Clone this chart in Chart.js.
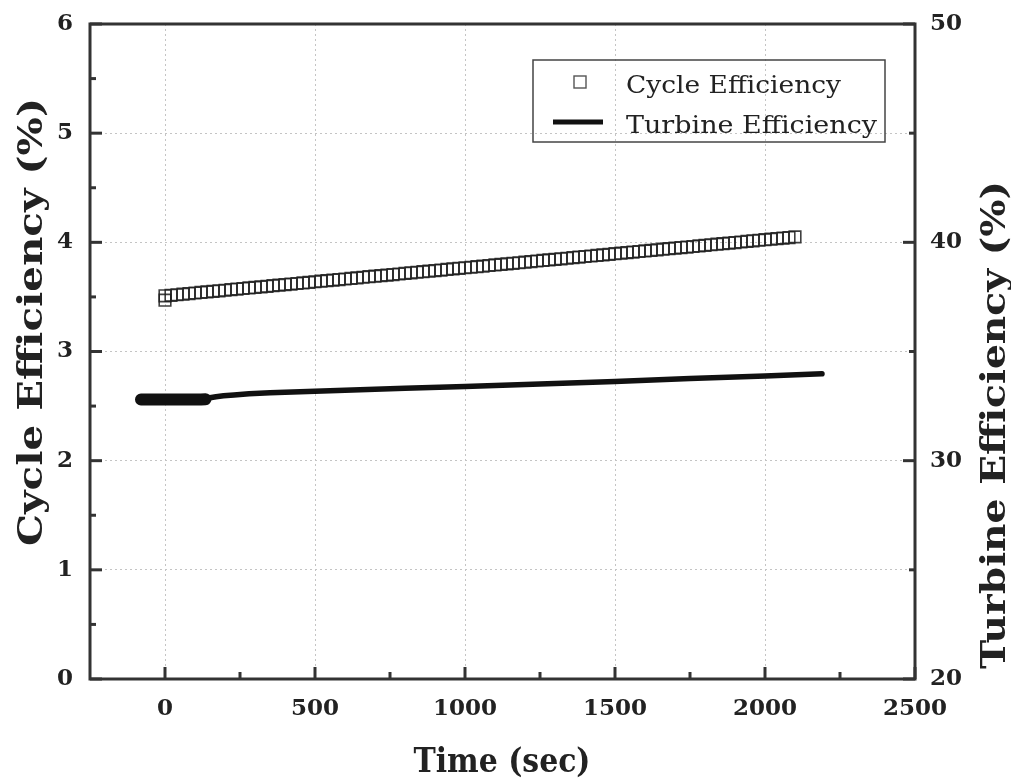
<!DOCTYPE html>
<html>
<head>
<meta charset="utf-8">
<script src="https://cdn.jsdelivr.net/npm/chart.js@4.4.1/dist/chart.umd.min.js"></script>
<style>
  html, body { margin: 0; padding: 0; background: #fff; }
  #wrap { width: 1011px; height: 780px; }
</style>
</head>
<body>
<div id="wrap"><canvas id="chart" width="1011" height="780"></canvas></div>
<script>
// Cycle efficiency (%) — left axis, square markers
const cycleTime = [0, 0, 20, 40, 60, 80, 100, 120, 140, 160, 180, 200, 220, 240, 260, 280, 300, 320, 340, 360,
  380, 400, 420, 440, 460, 480, 500, 520, 540, 560, 580, 600, 620, 640, 660, 680, 700, 720, 740, 760,
  780, 800, 820, 840, 860, 880, 900, 920, 940, 960, 980, 1000, 1020, 1040, 1060, 1080, 1100, 1120, 1140, 1160,
  1180, 1200, 1220, 1240, 1260, 1280, 1300, 1320, 1340, 1360, 1380, 1400, 1420, 1440, 1460, 1480, 1500, 1520, 1540, 1560,
  1580, 1600, 1620, 1640, 1660, 1680, 1700, 1720, 1740, 1760, 1780, 1800, 1820, 1840, 1860, 1880, 1900, 1920, 1940, 1960,
  1980, 2000, 2020, 2040, 2060, 2080, 2100];
const cycleEff = [3.47,
  3.510, 3.515, 3.520, 3.525, 3.531, 3.536, 3.541, 3.546, 3.551, 3.556,
  3.561, 3.567, 3.572, 3.577, 3.582, 3.587, 3.592, 3.597, 3.603, 3.608,
  3.613, 3.618, 3.623, 3.628, 3.633, 3.639, 3.644, 3.649, 3.654, 3.659,
  3.664, 3.669, 3.674, 3.680, 3.685, 3.690, 3.695, 3.700, 3.705, 3.710,
  3.716, 3.721, 3.726, 3.731, 3.736, 3.741, 3.746, 3.752, 3.757, 3.762,
  3.767, 3.772, 3.777, 3.782, 3.788, 3.793, 3.798, 3.803, 3.808, 3.813,
  3.818, 3.824, 3.829, 3.834, 3.839, 3.844, 3.849, 3.854, 3.860, 3.865,
  3.870, 3.875, 3.880, 3.885, 3.890, 3.896, 3.901, 3.906, 3.911, 3.916,
  3.921, 3.926, 3.931, 3.937, 3.942, 3.947, 3.952, 3.957, 3.962, 3.967,
  3.973, 3.978, 3.983, 3.988, 3.993, 3.998, 4.003, 4.009, 4.014, 4.019,
  4.024, 4.029, 4.034, 4.039, 4.044, 4.050];

// Turbine efficiency (%) — right axis; the start (t < 135 s) is a noisy band, drawn thicker
const turbineTime = [-80, -40, 0, 40, 80, 120, 135, 150, 170, 195, 230, 280, 350, 450, 600, 800, 1000, 1250, 1500, 1750, 2000, 2190];
const turbineEff = [32.80, 32.80, 32.80, 32.80, 32.80, 32.80, 32.81, 32.88, 32.93, 32.97, 33.01, 33.07, 33.11, 33.16, 33.23, 33.32, 33.40, 33.51, 33.63, 33.76, 33.88, 33.98];
const noisyUntil = 135;

// axes
const xTicks = [0, 500, 1000, 1500, 2000, 2500];
const xMinor = [250, 750, 1250, 1750, 2250];
const yTicks = [0, 1, 2, 3, 4, 5, 6];
const yMinor = [0.5, 1.5, 2.5, 3.5, 4.5, 5.5];
const y2Ticks = [20, 30, 40, 50];
const y2Minor = [25, 35, 45];

const INK = '#222';
const AXIS = '#333';
const SERIF = '"DejaVu Serif", "Liberation Serif", serif';

// draws text stretched to a given width (the original font is wider than DejaVu)
function stretchText(ctx, text, x, y, font, width, align, rot) {
    ctx.save();
    ctx.translate(x, y);
    if (rot) ctx.rotate(rot);
    ctx.font = font;
    const w = ctx.measureText(text).width;
    ctx.scale(width / w, 1);
    ctx.textAlign = align;
    ctx.textBaseline = 'alphabetic';
    ctx.fillStyle = INK;
    ctx.fillText(text, 0, 0);
    ctx.restore();
}

const decor = {
    id: 'decor',
    afterDraw(chart) {
        const { ctx, chartArea: a, scales } = chart;
        ctx.save();
        ctx.strokeStyle = AXIS;
        ctx.lineWidth = 3;
        const line = (x1, y1, x2, y2) => {
            ctx.beginPath(); ctx.moveTo(x1, y1); ctx.lineTo(x2, y2); ctx.stroke();
        };
        // inward ticks
        xTicks.forEach(v => { const x = scales.x.getPixelForValue(v); line(x, a.bottom, x, a.bottom - 12); });
        xMinor.forEach(v => { const x = scales.x.getPixelForValue(v); line(x, a.bottom, x, a.bottom - 7); });
        yTicks.forEach(v => { const y = scales.y.getPixelForValue(v); line(a.left, y, a.left + 12, y); });
        yMinor.forEach(v => { const y = scales.y.getPixelForValue(v); line(a.left, y, a.left + 6, y); });
        y2Ticks.forEach(v => { const y = scales.y2.getPixelForValue(v); line(a.right, y, a.right - 12, y); });
        y2Minor.forEach(v => { const y = scales.y2.getPixelForValue(v); line(a.right, y, a.right - 6, y); });
        // frame
        ctx.strokeRect(a.left, a.top, a.width, a.height);

        // legend
        const lx = a.left + 443, ly = a.top + 36;
        ctx.lineWidth = 1.5;
        ctx.strokeStyle = '#444';
        ctx.strokeRect(lx, ly, 352, 82);
        ctx.strokeStyle = '#555';
        ctx.lineWidth = 1.4;
        ctx.strokeRect(lx + 41, ly + 16, 12, 12);
        ctx.strokeStyle = '#111';
        ctx.lineWidth = 5;
        line(lx + 20, ly + 62, lx + 70, ly + 62);
        const lf = '25px ' + SERIF;
        stretchText(ctx, 'Cycle Efficiency', lx + 93, ly + 33, lf, 215, 'left');
        stretchText(ctx, 'Turbine Efficiency', lx + 93, ly + 73, lf, 251, 'left');

        // axis titles
        const tf = 'bold 33px ' + SERIF;
        stretchText(ctx, 'Time (sec)', 502, 772, tf, 177, 'center');
        stretchText(ctx, 'Cycle Efficiency (%)', 42, 322, tf, 448, 'center', -Math.PI / 2);
        stretchText(ctx, 'Turbine Efficiency (%)', 1005, 425, tf, 488, 'center', -Math.PI / 2);
        ctx.restore();
    }
};

const tickFont = { family: SERIF, size: 23, weight: 'bold' };
const plain = v => String(v);
const fixVertical = w => s => { s.width = w; s.paddingTop = 0; s.paddingBottom = 0; };

new Chart(document.getElementById('chart'), {
    type: 'scatter',
    data: {
        datasets: [{
            label: 'Cycle Efficiency',
            data: cycleTime.map((t, i) => ({ x: t, y: cycleEff[i] })),
            yAxisID: 'y',
            showLine: false,
            pointStyle: 'rect',
            pointRadius: 8.2,
            pointBorderWidth: 1.6,
            pointBorderColor: 'rgba(30,30,30,0.85)',
            pointBackgroundColor: 'rgba(0,0,0,0)'
        }, {
            label: 'Turbine Efficiency',
            data: turbineTime.map((t, i) => ({ x: t, y: turbineEff[i] })),
            yAxisID: 'y2',
            showLine: true,
            borderColor: '#111',
            borderWidth: 5.5,
            borderCapStyle: 'round',
            borderJoinStyle: 'round',
            segment: {
                borderWidth: c => (c.p1.parsed.x <= noisyUntil ? 12 : 5.5)
            },
            tension: 0,
            pointRadius: 0
        }]
    },
    options: {
        responsive: false,
        animation: false,
        layout: { autoPadding: false, padding: { top: 24, left: 0, right: 0, bottom: 0 } },
        plugins: {
            legend: { display: false },
            tooltip: { enabled: false }
        },
        scales: {
            x: {
                type: 'linear',
                min: -250,
                max: 2500,
                afterBuildTicks: s => { s.ticks = xTicks.map(v => ({ value: v })); },
                afterFit: s => { s.height = 101; s.paddingLeft = 0; s.paddingRight = 0; },
                grid: { color: '#c4c4c4', lineWidth: 1, drawTicks: false },
                border: { display: false, dash: [2, 3] },
                ticks: { font: tickFont, color: INK, padding: 16, maxRotation: 0, autoSkip: false, callback: plain }
            },
            y: {
                position: 'left',
                min: 0,
                max: 6,
                afterBuildTicks: s => { s.ticks = yTicks.map(v => ({ value: v })); },
                afterFit: fixVertical(90),
                grid: { color: '#c4c4c4', lineWidth: 1, drawTicks: false },
                border: { display: false, dash: [2, 3] },
                ticks: { font: tickFont, color: INK, padding: 17, callback: plain }
            },
            y2: {
                position: 'right',
                min: 20,
                max: 50,
                afterBuildTicks: s => { s.ticks = y2Ticks.map(v => ({ value: v })); },
                afterFit: fixVertical(96),
                grid: { drawOnChartArea: false, drawTicks: false },
                border: { display: false },
                ticks: { font: tickFont, color: INK, padding: 15, callback: plain }
            }
        }
    },
    plugins: [decor]
});
</script>
</body>
</html>
